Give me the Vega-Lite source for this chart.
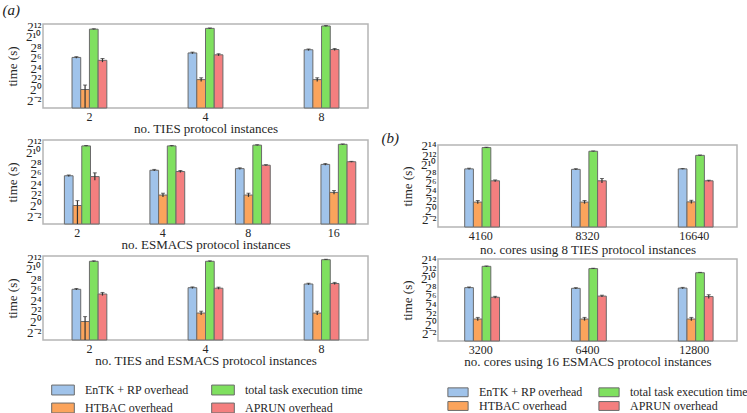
{
  "$schema": "https://vega.github.io/schema/vega-lite/v6.json",
  "padding": {"left": 1, "top": 2, "right": 0, "bottom": 0},
  "background": "white",
  "data": {"values": [
    {"p":"a1","g":"2","s":"EnTK + RP overhead","t":67.3,"lo":60.6,"hi":74.6},
    {"p":"a1","g":"2","s":"HTBAC overhead","t":1.0,"lo":0.05,"hi":1.8},
    {"p":"a1","g":"2","s":"total task execution time","t":2744,"lo":2596,"hi":2900},
    {"p":"a1","g":"2","s":"APRUN overhead","t":46,"lo":36.3,"hi":58.5},
    {"p":"a1","g":"4","s":"EnTK + RP overhead","t":121,"lo":109,"hi":135},
    {"p":"a1","g":"4","s":"HTBAC overhead","t":3.66,"lo":2.88,"hi":4.66},
    {"p":"a1","g":"4","s":"total task execution time","t":3044,"lo":2880,"hi":3218},
    {"p":"a1","g":"4","s":"APRUN overhead","t":95,"lo":82.8,"hi":109},
    {"p":"a1","g":"8","s":"EnTK + RP overhead","t":184,"lo":165.5,"hi":204},
    {"p":"a1","g":"8","s":"HTBAC overhead","t":3.66,"lo":2.88,"hi":4.66},
    {"p":"a1","g":"8","s":"total task execution time","t":4159,"lo":3935,"hi":4396},
    {"p":"a1","g":"8","s":"APRUN overhead","t":190,"lo":165,"hi":218},

    {"p":"a2","g":"2","s":"EnTK + RP overhead","t":49.5,"lo":44.6,"hi":55},
    {"p":"a2","g":"2","s":"HTBAC overhead","t":1.0,"lo":0.05,"hi":1.9},
    {"p":"a2","g":"2","s":"total task execution time","t":2484,"lo":2350,"hi":2626},
    {"p":"a2","g":"2","s":"APRUN overhead","t":44.6,"lo":27.4,"hi":72.4},
    {"p":"a2","g":"4","s":"EnTK + RP overhead","t":102,"lo":92.3,"hi":113.8},
    {"p":"a2","g":"4","s":"HTBAC overhead","t":3.94,"lo":3.09,"hi":5.02},
    {"p":"a2","g":"4","s":"total task execution time","t":2484,"lo":2350,"hi":2626},
    {"p":"a2","g":"4","s":"APRUN overhead","t":86.2,"lo":75,"hi":99},
    {"p":"a2","g":"8","s":"EnTK + RP overhead","t":126,"lo":113.6,"hi":140},
    {"p":"a2","g":"8","s":"HTBAC overhead","t":3.94,"lo":3.09,"hi":5.02},
    {"p":"a2","g":"8","s":"total task execution time","t":2756,"lo":2608,"hi":2913},
    {"p":"a2","g":"8","s":"APRUN overhead","t":198,"lo":183,"hi":213},
    {"p":"a2","g":"16","s":"EnTK + RP overhead","t":220,"lo":198,"hi":244},
    {"p":"a2","g":"16","s":"HTBAC overhead","t":5.58,"lo":4.38,"hi":7.11},
    {"p":"a2","g":"16","s":"total task execution time","t":3059,"lo":2894,"hi":3233},
    {"p":"a2","g":"16","s":"APRUN overhead","t":311,"lo":294,"hi":328},

    {"p":"a3","g":"2","s":"EnTK + RP overhead","t":68.6,"lo":61.8,"hi":76.1},
    {"p":"a3","g":"2","s":"HTBAC overhead","t":1.0,"lo":0.05,"hi":1.9},
    {"p":"a3","g":"2","s":"total task execution time","t":2702,"lo":2556,"hi":2856},
    {"p":"a3","g":"2","s":"APRUN overhead","t":36.8,"lo":29.9,"hi":45.3},
    {"p":"a3","g":"4","s":"EnTK + RP overhead","t":84.4,"lo":76,"hi":93.7},
    {"p":"a3","g":"4","s":"HTBAC overhead","t":3.03,"lo":2.38,"hi":3.86},
    {"p":"a3","g":"4","s":"total task execution time","t":2702,"lo":2556,"hi":2856},
    {"p":"a3","g":"4","s":"APRUN overhead","t":78.8,"lo":68.6,"hi":90.5},
    {"p":"a3","g":"8","s":"EnTK + RP overhead","t":137,"lo":123.4,"hi":152},
    {"p":"a3","g":"8","s":"HTBAC overhead","t":3.03,"lo":2.38,"hi":3.86},
    {"p":"a3","g":"8","s":"total task execution time","t":3327,"lo":3148,"hi":3517},
    {"p":"a3","g":"8","s":"APRUN overhead","t":147,"lo":128,"hi":169},

    {"p":"b1","g":"4160","s":"EnTK + RP overhead","t":507,"lo":456,"hi":563},
    {"p":"b1","g":"4160","s":"HTBAC overhead","t":3.33,"lo":2.62,"hi":4.24},
    {"p":"b1","g":"4160","s":"total task execution time","t":12723,"lo":12037,"hi":13448},
    {"p":"b1","g":"4160","s":"APRUN overhead","t":83.6,"lo":72.8,"hi":96},
    {"p":"b1","g":"8320","s":"EnTK + RP overhead","t":473,"lo":426,"hi":525},
    {"p":"b1","g":"8320","s":"HTBAC overhead","t":3.33,"lo":2.62,"hi":4.24},
    {"p":"b1","g":"8320","s":"total task execution time","t":7309,"lo":6915,"hi":7727},
    {"p":"b1","g":"8320","s":"APRUN overhead","t":83.6,"lo":59.1,"hi":118.2},
    {"p":"b1","g":"16640","s":"EnTK + RP overhead","t":507,"lo":483,"hi":532},
    {"p":"b1","g":"16640","s":"HTBAC overhead","t":3.44,"lo":2.7,"hi":4.38},
    {"p":"b1","g":"16640","s":"total task execution time","t":3917,"lo":3706,"hi":4141},
    {"p":"b1","g":"16640","s":"APRUN overhead","t":83.6,"lo":76.4,"hi":91.4},

    {"p":"b2","g":"3200","s":"EnTK + RP overhead","t":247,"lo":222.5,"hi":274},
    {"p":"b2","g":"3200","s":"HTBAC overhead","t":2.14,"lo":1.68,"hi":2.73},
    {"p":"b2","g":"3200","s":"total task execution time","t":6208,"lo":5873,"hi":6562},
    {"p":"b2","g":"3200","s":"APRUN overhead","t":57.7,"lo":50.2,"hi":66.3},
    {"p":"b2","g":"6400","s":"EnTK + RP overhead","t":223,"lo":201,"hi":247.5},
    {"p":"b2","g":"6400","s":"HTBAC overhead","t":2.14,"lo":1.68,"hi":2.73},
    {"p":"b2","g":"6400","s":"total task execution time","t":4390,"lo":4153,"hi":4640},
    {"p":"b2","g":"6400","s":"APRUN overhead","t":68.6,"lo":59.7,"hi":78.8},
    {"p":"b2","g":"12800","s":"EnTK + RP overhead","t":231,"lo":208,"hi":256},
    {"p":"b2","g":"12800","s":"HTBAC overhead","t":2.14,"lo":1.68,"hi":2.73},
    {"p":"b2","g":"12800","s":"total task execution time","t":2353,"lo":2226,"hi":2487},
    {"p":"b2","g":"12800","s":"APRUN overhead","t":64,"lo":48.5,"hi":84.4}
  ]},
  "resolve": {"legend": {"color": "independent"}},
  "spacing": 11,
  "hconcat": [
    {
      "resolve": {"legend": {"color": "independent"}},
      "spacing": -1,
      "vconcat": [
        {
          "title": {"text": "(a)", "anchor": "start", "frame": "bounds", "dx": -4, "offset": 2},
          "width": 325, "height": 84,
          "transform": [{"filter": "datum.p === 'a1'"}],
          "encoding": {
            "x": {"field": "g", "type": "nominal", "sort": ["2","4","8"], "scale": {"paddingInner": 0.7, "paddingOuter": 0.25}, "axis": {"title": "no. TIES protocol instances"}},
            "xOffset": {"field": "s", "type": "nominal", "sort": ["EnTK + RP overhead","HTBAC overhead","total task execution time","APRUN overhead"], "scale": {"paddingInner": 0, "paddingOuter": 0}}
          },
          "layer": [
            {"mark": {"type": "bar", "stroke": "#6a6a6a", "strokeWidth": 1},
             "encoding": {
               "y": {"field": "t", "type": "quantitative", "scale": {"type": "log", "base": 2, "domain": [0.0884, 5405], "nice": false}, "axis": {"title": "time (s)", "values": [0.25,1,4,16,64,256,1024,4096], "labelExpr": "['2⁻²','','2⁰','','2²','','2⁴','','2⁶','','2⁸','','2¹⁰','','2¹²','','2¹⁴'][round(log(datum.value)/LN2)+2]"}},
               "y2": {"datum": 0.0884},
               "color": {"field": "s", "type": "nominal", "scale": {"domain": ["EnTK + RP overhead","total task execution time","HTBAC overhead","APRUN overhead"], "range": ["#a0c3ea","#7fe05f","#fba45c","#f47f7f"]}, "legend": null}
             }},
            {"mark": {"type": "rule", "color": "#333333", "strokeWidth": 1.2, "clip": true},
             "encoding": {"y": {"field": "lo", "type": "quantitative", "title": "time (s)"}, "y2": {"field": "hi"}}},
            {"mark": {"type": "tick", "color": "#333333", "size": 4, "thickness": 1},
             "encoding": {"y": {"field": "hi", "type": "quantitative", "title": "time (s)"}}}
          ]
        },
        {
          "width": 325, "height": 84,
          "transform": [{"filter": "datum.p === 'a2'"}],
          "encoding": {
            "x": {"field": "g", "type": "nominal", "sort": ["2","4","8","16"], "scale": {"paddingInner": 0.7, "paddingOuter": 0.25}, "axis": {"title": "no. ESMACS protocol instances"}},
            "xOffset": {"field": "s", "type": "nominal", "sort": ["EnTK + RP overhead","HTBAC overhead","total task execution time","APRUN overhead"], "scale": {"paddingInner": 0, "paddingOuter": 0}}
          },
          "layer": [
            {"mark": {"type": "bar", "stroke": "#6a6a6a", "strokeWidth": 1},
             "encoding": {
               "y": {"field": "t", "type": "quantitative", "scale": {"type": "log", "base": 2, "domain": [0.0884, 5405], "nice": false}, "axis": {"title": "time (s)", "values": [0.25,1,4,16,64,256,1024,4096], "labelExpr": "['2⁻²','','2⁰','','2²','','2⁴','','2⁶','','2⁸','','2¹⁰','','2¹²','','2¹⁴'][round(log(datum.value)/LN2)+2]"}},
               "y2": {"datum": 0.0884},
               "color": {"field": "s", "type": "nominal", "scale": {"domain": ["EnTK + RP overhead","total task execution time","HTBAC overhead","APRUN overhead"], "range": ["#a0c3ea","#7fe05f","#fba45c","#f47f7f"]}, "legend": null}
             }},
            {"mark": {"type": "rule", "color": "#333333", "strokeWidth": 1.2, "clip": true},
             "encoding": {"y": {"field": "lo", "type": "quantitative", "title": "time (s)"}, "y2": {"field": "hi"}}},
            {"mark": {"type": "tick", "color": "#333333", "size": 4, "thickness": 1},
             "encoding": {"y": {"field": "hi", "type": "quantitative", "title": "time (s)"}}}
          ]
        },
        {
          "width": 325, "height": 84,
          "transform": [{"filter": "datum.p === 'a3'"}],
          "encoding": {
            "x": {"field": "g", "type": "nominal", "sort": ["2","4","8"], "scale": {"paddingInner": 0.7, "paddingOuter": 0.25}, "axis": {"title": "no. TIES and ESMACS protocol instances"}},
            "xOffset": {"field": "s", "type": "nominal", "sort": ["EnTK + RP overhead","HTBAC overhead","total task execution time","APRUN overhead"], "scale": {"paddingInner": 0, "paddingOuter": 0}}
          },
          "layer": [
            {"mark": {"type": "bar", "stroke": "#6a6a6a", "strokeWidth": 1},
             "encoding": {
               "y": {"field": "t", "type": "quantitative", "scale": {"type": "log", "base": 2, "domain": [0.0884, 5405], "nice": false}, "axis": {"title": "time (s)", "values": [0.25,1,4,16,64,256,1024,4096], "labelExpr": "['2⁻²','','2⁰','','2²','','2⁴','','2⁶','','2⁸','','2¹⁰','','2¹²','','2¹⁴'][round(log(datum.value)/LN2)+2]"}},
               "y2": {"datum": 0.0884},
               "color": {"field": "s", "type": "nominal", "scale": {"domain": ["EnTK + RP overhead","total task execution time","HTBAC overhead","APRUN overhead"], "range": ["#a0c3ea","#7fe05f","#fba45c","#f47f7f"]},
                 "legend": {"title": null, "orient": "none", "legendX": 12, "legendY": 126, "direction": "horizontal", "columns": 2, "columnPadding": 20, "rowPadding": 3, "symbolType": "M-1.6,-0.7H1.6V0.7H-1.6Z", "symbolSize": 200, "symbolStrokeColor": "#6a6a6a", "symbolStrokeWidth": 1, "labelFontSize": 12, "labelOffset": 14, "labelLimit": 300}}
             }},
            {"mark": {"type": "rule", "color": "#333333", "strokeWidth": 1.2, "clip": true},
             "encoding": {"y": {"field": "lo", "type": "quantitative", "title": "time (s)"}, "y2": {"field": "hi"}}},
            {"mark": {"type": "tick", "color": "#333333", "size": 4, "thickness": 1},
             "encoding": {"y": {"field": "hi", "type": "quantitative", "title": "time (s)"}}}
          ]
        }
      ]
    },
    {
      "resolve": {"legend": {"color": "independent"}},
      "spacing": -4,
      "vconcat": [
        {
          "width": 10, "height": 110,
          "view": {"stroke": null},
          "data": {"values": [{}]},
          "mark": {"type": "text", "text": ""}
        },
        {
          "title": {"text": "(b)", "anchor": "start", "frame": "bounds", "dx": -20, "dy": 6, "offset": 0},
          "width": 299, "height": 82,
          "transform": [{"filter": "datum.p === 'b1'"}],
          "encoding": {
            "x": {"field": "g", "type": "nominal", "sort": ["4160","8320","16640"], "scale": {"paddingInner": 0.7, "paddingOuter": 0.25}, "axis": {"title": "no. cores using 8 TIES protocol instances", "titlePadding": 2}},
            "xOffset": {"field": "s", "type": "nominal", "sort": ["EnTK + RP overhead","HTBAC overhead","total task execution time","APRUN overhead"], "scale": {"paddingInner": 0, "paddingOuter": 0}}
          },
          "layer": [
            {"mark": {"type": "bar", "stroke": "#6a6a6a", "strokeWidth": 1},
             "encoding": {
               "y": {"field": "t", "type": "quantitative", "scale": {"type": "log", "base": 2, "domain": [0.077, 18820], "nice": false}, "axis": {"title": "time (s)", "values": [0.25,1,4,16,64,256,1024,4096,16384], "labelExpr": "['2⁻²','','2⁰','','2²','','2⁴','','2⁶','','2⁸','','2¹⁰','','2¹²','','2¹⁴'][round(log(datum.value)/LN2)+2]"}},
               "y2": {"datum": 0.077},
               "color": {"field": "s", "type": "nominal", "scale": {"domain": ["EnTK + RP overhead","total task execution time","HTBAC overhead","APRUN overhead"], "range": ["#a0c3ea","#7fe05f","#fba45c","#f47f7f"]}, "legend": null}
             }},
            {"mark": {"type": "rule", "color": "#333333", "strokeWidth": 1.2, "clip": true},
             "encoding": {"y": {"field": "lo", "type": "quantitative", "title": "time (s)"}, "y2": {"field": "hi"}}},
            {"mark": {"type": "tick", "color": "#333333", "size": 4, "thickness": 1},
             "encoding": {"y": {"field": "hi", "type": "quantitative", "title": "time (s)"}}}
          ]
        },
        {
          "width": 299, "height": 82,
          "transform": [{"filter": "datum.p === 'b2'"}],
          "encoding": {
            "x": {"field": "g", "type": "nominal", "sort": ["3200","6400","12800"], "scale": {"paddingInner": 0.7, "paddingOuter": 0.25}, "axis": {"title": "no. cores using 16 ESMACS protocol instances"}},
            "xOffset": {"field": "s", "type": "nominal", "sort": ["EnTK + RP overhead","HTBAC overhead","total task execution time","APRUN overhead"], "scale": {"paddingInner": 0, "paddingOuter": 0}}
          },
          "layer": [
            {"mark": {"type": "bar", "stroke": "#6a6a6a", "strokeWidth": 1},
             "encoding": {
               "y": {"field": "t", "type": "quantitative", "scale": {"type": "log", "base": 2, "domain": [0.077, 18820], "nice": false}, "axis": {"title": "time (s)", "values": [0.25,1,4,16,64,256,1024,4096,16384], "labelExpr": "['2⁻²','','2⁰','','2²','','2⁴','','2⁶','','2⁸','','2¹⁰','','2¹²','','2¹⁴'][round(log(datum.value)/LN2)+2]"}},
               "y2": {"datum": 0.077},
               "color": {"field": "s", "type": "nominal", "scale": {"domain": ["EnTK + RP overhead","total task execution time","HTBAC overhead","APRUN overhead"], "range": ["#a0c3ea","#7fe05f","#fba45c","#f47f7f"]},
                 "legend": {"title": null, "orient": "none", "legendX": 13, "legendY": 126, "direction": "horizontal", "columns": 2, "columnPadding": 13, "rowPadding": 0, "symbolType": "M-1.6,-0.7H1.6V0.7H-1.6Z", "symbolSize": 160, "symbolStrokeColor": "#6a6a6a", "symbolStrokeWidth": 1, "labelFontSize": 12, "labelOffset": 14, "labelLimit": 300}}
             }},
            {"mark": {"type": "rule", "color": "#333333", "strokeWidth": 1.2, "clip": true},
             "encoding": {"y": {"field": "lo", "type": "quantitative", "title": "time (s)"}, "y2": {"field": "hi"}}},
            {"mark": {"type": "tick", "color": "#333333", "size": 4, "thickness": 1},
             "encoding": {"y": {"field": "hi", "type": "quantitative", "title": "time (s)"}}}
          ]
        }
      ]
    }
  ],
  "config": {
    "font": "Liberation Serif",
    "view": {"stroke": "#b5b5b5", "strokeWidth": 1.5},
    "title": {"font": "Liberation Serif", "fontSize": 15, "fontStyle": "italic", "fontWeight": "normal", "color": "#222222"},
    "axis": {"labelFont": "Liberation Serif", "titleFont": "Liberation Serif", "labelFontSize": 12, "titleFontSize": 13, "titleFontWeight": "normal", "labelColor": "#262626", "titleColor": "#262626", "domain": false, "ticks": false, "grid": false},
    "axisX": {"labelAngle": 0, "labelPadding": 3, "titlePadding": 0},
    "axisY": {"labelPadding": 2, "titlePadding": 6, "labelOverlap": false, "labelFontSize": 13},
    "legend": {"labelFont": "Liberation Serif", "labelColor": "#262626"}
  }
}
